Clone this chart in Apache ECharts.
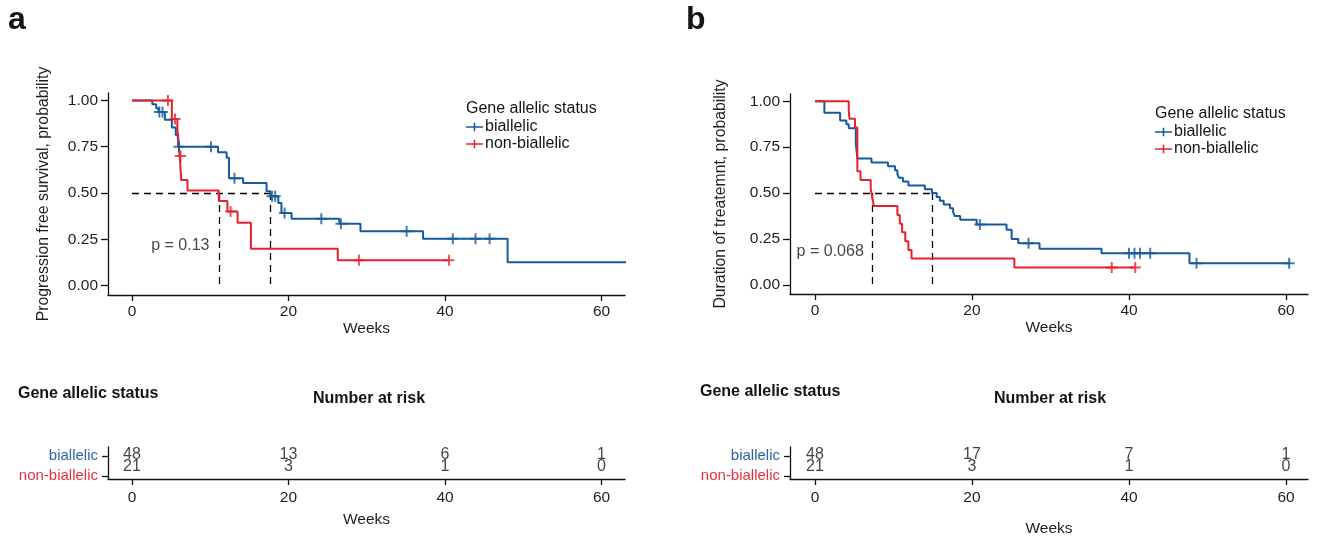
<!DOCTYPE html>
<html><head><meta charset="utf-8">
<script src="https://cdn.jsdelivr.net/npm/echarts@6/dist/echarts.min.js"></script>
<style>html,body{margin:0;padding:0;background:#fff}#c{width:1317px;height:541px}</style>
</head><body><div id="c"></div>
<script>
// ---------- DATA ----------
const weekTicks = [0, 20, 40, 60];
const probTicks = [0, 0.25, 0.5, 0.75, 1];
const groups = ['biallelic', 'non-biallelic'];

// Panel a: progression-free survival (weeks, probability)
const pfsBiallelic = [[0,1],[2.6,0.979],[3.1,0.958],[3.4,0.937],[4.2,0.896],[5.1,0.854],[5.6,0.812],[5.9,0.75],[11.0,0.72],[12.1,0.69],[12.4,0.58],[14.2,0.555],[17.2,0.51],[17.7,0.483],[18.7,0.447],[19.1,0.393],[20.4,0.362],[26.5,0.335],[29.2,0.294],[37.2,0.254],[48.0,0.127],[64.6,0.127]];
const pfsBiallelicCensor = [[3.5,0.937],[3.9,0.937],[6.0,0.75],[10.1,0.75],[13.1,0.58],[17.9,0.483],[18.3,0.483],[19.5,0.393],[24.2,0.362],[26.7,0.335],[35.1,0.294],[41.0,0.254],[43.9,0.254],[45.7,0.254]];
const pfsNon = [[0,1],[5.1,0.9],[5.8,0.85],[6.0,0.75],[6.1,0.70],[6.3,0.57],[7.1,0.514],[11.1,0.457],[12.2,0.40],[13.5,0.34],[15.2,0.20],[26.3,0.137],[40.5,0.137]];
const pfsNonCensor = [[4.6,1.0],[5.5,0.90],[6.2,0.70],[12.6,0.40],[29.0,0.137],[40.5,0.137]];
const pA = 'p = 0.13';

// Panel b: duration of treatment
const dotBiallelic = [[0,1],[1.2,0.938],[3.2,0.896],[4.0,0.875],[4.3,0.854],[5.2,0.771],[5.4,0.688],[7.2,0.667],[9.3,0.646],[10.2,0.625],[10.5,0.604],[10.7,0.583],[11.2,0.563],[11.9,0.542],[14.0,0.521],[14.9,0.5],[15.5,0.479],[15.9,0.458],[16.4,0.438],[17.2,0.417],[17.6,0.396],[17.8,0.375],[18.5,0.354],[20.6,0.329],[24.4,0.30],[25.05,0.25],[25.9,0.226],[28.6,0.196],[36.5,0.172],[47.7,0.118],[60.5,0.118]];
const dotBiallelicCensor = [[21.0,0.329],[27.2,0.226],[40.0,0.172],[40.7,0.172],[41.4,0.172],[42.7,0.172],[48.6,0.118],[60.4,0.118]];
const dotNon = [[0,1],[4.3,0.952],[4.4,0.905],[5.1,0.857],[5.4,0.619],[5.8,0.571],[7.1,0.524],[7.3,0.476],[7.5,0.429],[10.5,0.381],[10.8,0.333],[11.1,0.286],[11.5,0.238],[11.9,0.190],[12.3,0.143],[25.4,0.095],[40.8,0.095]];
const dotNonCensor = [[37.8,0.095],[40.8,0.095]];
const pB = 'p = 0.068';

// Number at risk
const riskTimes = [0, 20, 40, 60];
const riskA_biallelic = [48, 13, 6, 1];
const riskA_non = [21, 3, 1, 0];
const riskB_biallelic = [48, 17, 7, 1];
const riskB_non = [21, 3, 1, 0];

// ---------- STYLE ----------
const BLUE = '#155a9b', RED = '#e8202e';
const LBLUE = '#2a64aa', LRED = '#e8303c';
const INK = '#141414', AX = '#111', TICKC = '#1e1e1e';
const FONT = '"Liberation Sans", Arial, Helvetica, sans-serif';
const PLUS = 'path://M4.1,0 L5.9,0 L5.9,4.1 L10,4.1 L10,5.9 L5.9,5.9 L5.9,10 L4.1,10 L4.1,5.9 L0,5.9 L0,4.1 L4.1,4.1 Z';
const LEGPLUS = 'path://M0,4.1 L20,4.1 L20,5.9 L0,5.9 Z M9.1,0 L10.9,0 L10.9,10 L9.1,10 Z';

function median(curve){ for (const [t,s] of curve) if (s <= 0.5) return t; return null; }

function xAx(gi, min, max, nameGap, labelMargin){
  return {gridIndex: gi, type:'value', min, max,
    axisLine:{show:true, onZero:false, lineStyle:{color:AX, width:1.3}},
    axisTick:{show:true, customValues: weekTicks, length:6, lineStyle:{color:AX, width:1.3}},
    axisLabel:{customValues: weekTicks, fontSize:15.5, color:TICKC, margin:labelMargin, fontFamily:FONT},
    splitLine:{show:false},
    name:'Weeks', nameLocation:'middle', nameGap, nameTextStyle:{fontSize:15.5, color:TICKC, fontFamily:FONT}};
}
function yAx(gi, name, nameGap){
  return {gridIndex: gi, type:'value', min:-0.05, max:1.04,
    axisLine:{show:true, onZero:false, lineStyle:{color:AX, width:1.3}},
    axisTick:{show:true, customValues: probTicks, length:7, lineStyle:{color:AX, width:1.3}},
    axisLabel:{customValues: probTicks, fontSize:15.5, color:TICKC, margin:10, fontFamily:FONT,
      formatter: v => v.toFixed(2)},
    splitLine:{show:false},
    name, nameLocation:'middle', nameGap, nameTextStyle:{fontSize:15.8, color:TICKC, fontFamily:FONT}};
}
function riskY(gi){
  return {gridIndex: gi, type:'value', min:-0.15, max:1.45,
    axisLine:{show:true, onZero:false, lineStyle:{color:AX, width:1.3}},
    axisTick:{show:true, customValues:[0,1], length:6, lineStyle:{color:AX, width:1.3}},
    axisLabel:{customValues:[0,1], margin:10, fontFamily:FONT,
      formatter: v => v === 1 ? '{b|' + groups[0] + '}' : '{n|' + groups[1] + '}',
      rich:{b:{color:LBLUE, fontSize:15, fontFamily:FONT}, n:{color:LRED, fontSize:15, fontFamily:FONT}}},
    splitLine:{show:false}};
}
function km(name, color, idx, curve, censor){
  return [
    {type:'line', name, xAxisIndex:idx, yAxisIndex:idx, data:curve, step:'end', symbol:'none', showSymbol:false,
     clip:false, lineStyle:{color, width:2}, itemStyle:{color}, z:3, silent:true},
    {type:'scatter', name, xAxisIndex:idx, yAxisIndex:idx, data:censor, symbol:PLUS, symbolSize:11,
     clip:false, itemStyle:{color}, z:4, silent:true}
  ];
}
function medianLines(idx, c1, c2){
  const m1 = median(c1), m2 = median(c2);
  const mx = Math.max(m1, m2);
  return {type:'lines', coordinateSystem:'cartesian2d', xAxisIndex:idx, yAxisIndex:idx, polyline:false, silent:true,
    lineStyle:{color:'#000', width:1.3, type:[7,5], opacity:1}, z:2,
    data:[{coords:[[0,0.5],[mx,0.5]]},{coords:[[m1,0.5],[m1,0]]},{coords:[[m2,0.5],[m2,0]]}]};
}
function pText(idx, txt, x, y){
  return {type:'scatter', xAxisIndex:idx, yAxisIndex:idx, data:[[x,y]], symbolSize:1, silent:true,
    itemStyle:{color:'transparent'},
    label:{show:true, position:'right', distance:0, formatter:txt, fontSize:16, color:INK, fontFamily:FONT}};
}
function riskRow(idx, vals, y, dy){
  return {type:'scatter', xAxisIndex:idx, yAxisIndex:idx, symbolSize:1, silent:true,
    data: riskTimes.map((t,i)=>[t, y, vals[i]]), itemStyle:{color:'transparent'},
    label:{show:true, position:'inside', offset:[0,dy], formatter:p=>String(p.value[2]), fontSize:16, color:INK, fontFamily:FONT}};
}
function ttl(text, left, top, size, bold){
  return {text, left, top, padding:0, textStyle:{fontSize:size, fontWeight:bold?'bold':'normal', color:INK, fontFamily:FONT}};
}
const legendData = [{name:groups[0], icon:LEGPLUS},{name:groups[1], icon:LEGPLUS}];
function leg(left, top){
  return {left, top, orient:'vertical', padding:0, itemGap:1, itemWidth:17, itemHeight:10,
    data:legendData, textStyle:{fontSize:16, color:INK, fontFamily:FONT, padding:[0,0,0,-3]}, selectedMode:false};
}

const option = {
  animation:false,
  backgroundColor:'#fff',
  textStyle:{fontFamily:FONT},
  title:[
    ttl('a', 8, 4, 32, true), ttl('b', 686, 4, 32, true),
    ttl('Gene allelic status', 466, 101, 16, false),
    ttl('Gene allelic status', 1155, 106, 16, false),
    ttl('Gene allelic status', 18, 386, 16, true),
    ttl('Number at risk', 313, 391, 16, true),
    ttl('Gene allelic status', 700, 384, 16, true),
    ttl('Number at risk', 994, 391, 16, true)
  ],
  legend:[leg(466, 119), leg(1155, 124)],
  grid:[
    {left:108, top:93, width:517, height:202},
    {left:790, top:94, width:518, height:200},
    {left:108, top:447, width:517, height:32},
    {left:790, top:447, width:518, height:32}
  ],
  xAxis:[
    xAx(0, -3.06, 63, 25, 9),
    xAx(1, -3.18, 62.8, 26, 9),
    xAx(2, -3.06, 63, 33, 11),
    xAx(3, -3.18, 62.8, 42, 11)
  ],
  yAxis:[
    yAx(0, 'Progression free survival, probability', 56),
    yAx(1, 'Duration of treatemnt, probability', 61),
    riskY(2), riskY(3)
  ],
  series:[
    medianLines(0, pfsBiallelic, pfsNon),
    ...km(groups[0], BLUE, 0, pfsBiallelic, pfsBiallelicCensor),
    ...km(groups[1], RED, 0, pfsNon, pfsNonCensor),
    pText(0, pA, 2.4, 0.215),
    medianLines(1, dotBiallelic, dotNon),
    ...km(groups[0], BLUE, 1, dotBiallelic, dotBiallelicCensor),
    ...km(groups[1], RED, 1, dotNon, dotNonCensor),
    pText(1, pB, -2.4, 0.18),
    riskRow(2, riskA_biallelic, 1, -1), riskRow(2, riskA_non, 0, -9),
    riskRow(3, riskB_biallelic, 1, -1), riskRow(3, riskB_non, 0, -9)
  ]
};
const chart = echarts.init(document.getElementById('c'), null, {renderer:'canvas'});
chart.setOption(option);
</script></body></html>
